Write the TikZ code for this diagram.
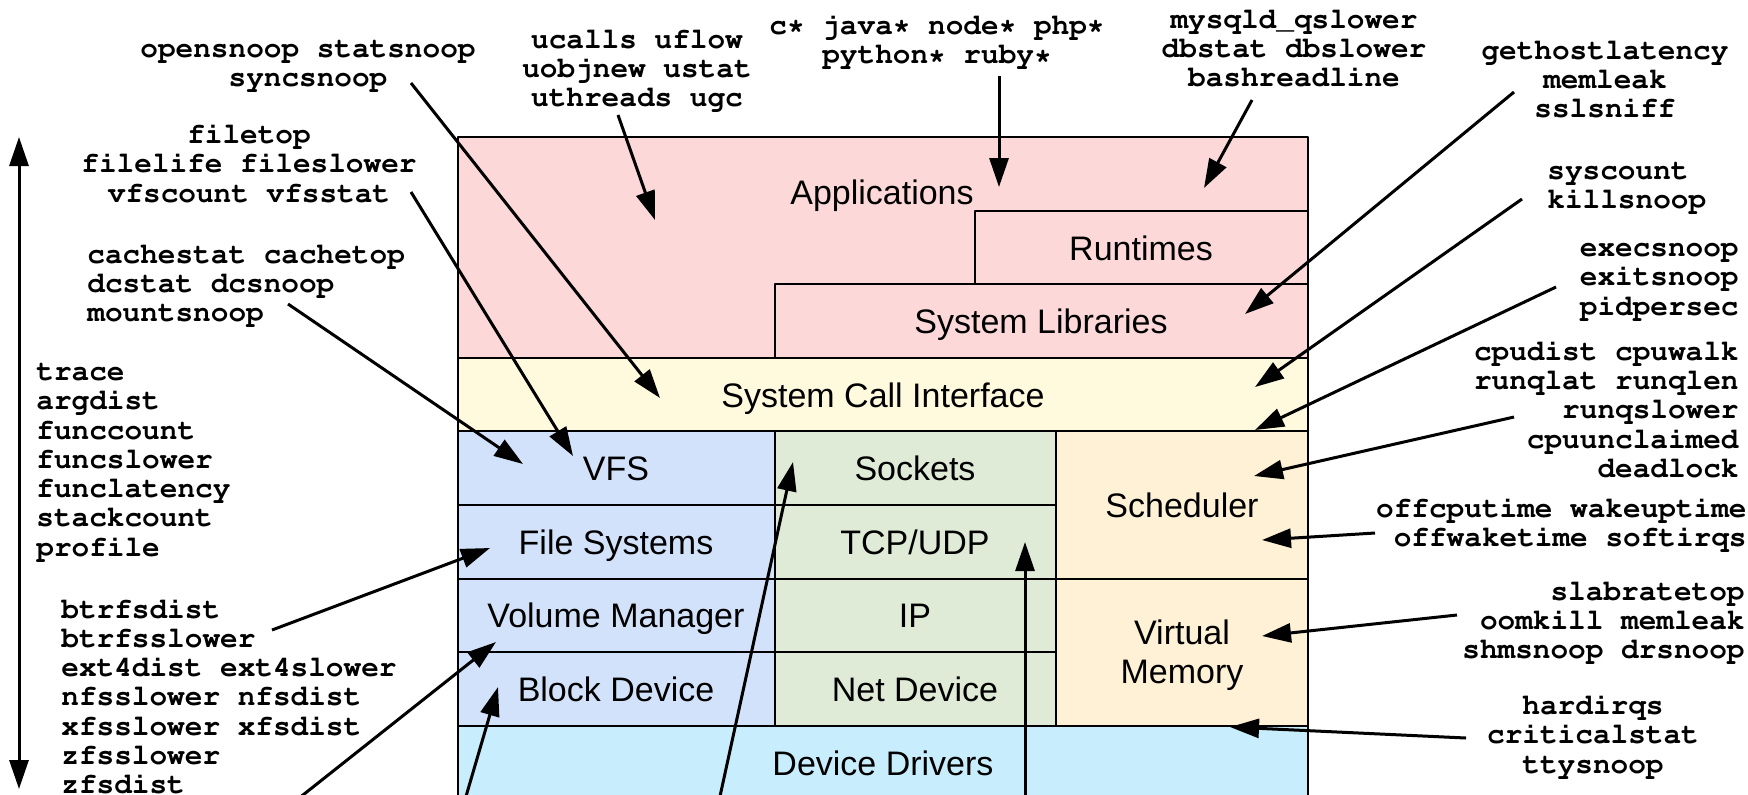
\documentclass[tikz,border=0pt]{standalone}
\usepackage[T1]{fontenc}
\usepackage{fontspec}
\setsansfont{Liberation Sans}
\usepackage{tikz}
\usetikzlibrary{arrows.meta}

\definecolor{appbg}{RGB}{252,216,216}
\definecolor{scibg}{RGB}{255,249,222}
\definecolor{fsbg}{RGB}{211,226,251}
\definecolor{netbg}{RGB}{223,235,214}
\definecolor{cpubg}{RGB}{255,241,214}
\definecolor{drvbg}{RGB}{200,238,253}

% bold courier for the tool names, sans for the layers
\newcommand{\toolfont}{\fontencoding{T1}\fontfamily{pcr}\fontseries{b}\fontshape{n}\fontsize{14.7}{14.65}\selectfont}
\newcommand{\layerfont}{\sffamily\fontsize{17}{19.5}\selectfont}

\begin{document}
\begin{tikzpicture}[x=0.5pt,y=-0.5pt,line join=round,
    >={Triangle[length=14.5pt,width=9.5pt]},
    box/.style={draw=black,line width=1pt},
    layer/.style={font=\layerfont,inner sep=0pt,text height=12.2pt,text depth=0pt},
    layers/.style={font=\layerfont,inner sep=0pt,align=center},
    tools/.style={font=\toolfont,inner sep=0pt,execute at begin node=\strut,execute at end node=\strut},
    probe/.style={->,line width=1.5pt}]
        \useasboundingbox (0,0) rectangle (1748,794);
        \clip (0,0) rectangle (1748,794);

        % user space
        \draw [box,fill=appbg] (458,137) rectangle (1308,358);
        \draw [box,fill=appbg] (975,211) rectangle (1308,284);
        \draw [box,fill=appbg] (775,284) rectangle (1308,358);
        \draw [box,fill=scibg] (458,358) rectangle (1308,431);
        % storage stack
        \draw [box,fill=fsbg] (458,431) rectangle (775,505);
        \draw [box,fill=fsbg] (458,505) rectangle (775,579);
        \draw [box,fill=fsbg] (458,579) rectangle (775,652);
        \draw [box,fill=fsbg] (458,652) rectangle (775,726);
        % network stack
        \draw [box,fill=netbg] (775,431) rectangle (1056,505);
        \draw [box,fill=netbg] (775,505) rectangle (1056,579);
        \draw [box,fill=netbg] (775,579) rectangle (1056,652);
        \draw [box,fill=netbg] (775,652) rectangle (1056,726);
        % cpu and memory
        \draw [box,fill=cpubg] (1056,431) rectangle (1308,579);
        \draw [box,fill=cpubg] (1056,579) rectangle (1308,726);
        \draw [box,fill=drvbg] (458,726) rectangle (1308,810);

        \node [layer] (apps) at (882,192) {Applications};
        \node [layer] (runtimes) at (1141,248) {Runtimes};
        \node [layer] (syslibs) at (1041,321) {System Libraries};
        \node [layer] (sci) at (883,395) {System Call Interface};
        \node [layer] (vfs) at (616,468) {VFS};
        \node [layer] (fsys) at (616,542) {File Systems};
        \node [layer] (volmgr) at (616,615) {Volume Manager};
        \node [layer] (blkdev) at (616,689) {Block Device};
        \node [layer] (sockets) at (915,468) {Sockets};
        \node [layer] (tcpudp) at (915,542) {TCP/UDP};
        \node [layer] (ip) at (915,615) {IP};
        \node [layer] (netdev) at (915,689) {Net Device};
        \node [layer] (sched) at (1182,505) {Scheduler};
        \node [layers] (vm) at (1182,655) {Virtual\\Memory};
        \node [layer] (drivers) at (883,763) {Device Drivers};

        % tool groups
        \node [tools,align=center] (t-open) at (308,68.5) {opensnoop statsnoop\\syncsnoop};
        \node [tools,align=center] (t-ucalls) at (637,72.5) {ucalls uflow\\uobjnew ustat\\uthreads ugc};
        \node [tools,align=center] (t-lang) at (937,43.5) {c* java* node* php*\\python* ruby*};
        \node [tools,align=center] (t-db) at (1294,52.5) {mysqld\_qslower\\dbstat dbslower\\bashreadline};
        \node [tools,align=center] (t-libs) at (1605,83.5) {gethostlatency\\memleak\\sslsniff};
        \node [tools,align=left,anchor=west] (t-sys) at (1547,190.5) {syscount\\killsnoop};
        \node [tools,align=right,anchor=east] (t-proc) at (1739,283.5) {execsnoop\\exitsnoop\\pidpersec};
        \node [tools,align=right,anchor=east] (t-sched) at (1739,413.5) {cpudist cpuwalk\\runqlat runqlen\\runqslower\\cpuunclaimed\\deadlock};
        \node [tools,align=right,anchor=east] (t-off) at (1747,526.5) {offcputime wakeuptime\\offwaketime softirqs};
        \node [tools,align=right,anchor=east] (t-mem) at (1745,624.5) {slabratetop\\oomkill memleak\\shmsnoop drsnoop};
        \node [tools,align=center] (t-irq) at (1593,738.5) {hardirqs\\criticalstat\\ttysnoop};
        \node [tools,align=center] (t-file) at (249,167.5) {filetop\\filelife fileslower\\vfscount vfsstat};
        \node [tools,align=left,anchor=west] (t-cache) at (87,287.5) {cachestat cachetop\\dcstat dcsnoop\\mountsnoop};
        \node [tools,align=left,anchor=west] (t-trace) at (36,464.5) {trace\\argdist\\funccount\\funcslower\\funclatency\\stackcount\\profile};
        \node [tools,align=left,anchor=west] (t-fs) at (61,700.5) {btrfsdist\\btrfsslower\\ext4dist ext4slower\\nfsslower nfsdist\\xfsslower xfsdist\\zfsslower\\zfsdist};

        % arrow ends
        \coordinate (s-open) at (411,83);      \coordinate (e-open) at (660,398);
        \coordinate (s-ucalls) at (618,115);   \coordinate (e-ucalls) at (655,220);
        \coordinate (s-lang) at (999,76);      \coordinate (e-lang) at (999,187);
        \coordinate (s-db) at (1252,100);      \coordinate (e-db) at (1204,188);
        \coordinate (s-libs) at (1514,92);     \coordinate (e-libs) at (1245,314);
        \coordinate (s-sys) at (1522,199);     \coordinate (e-sys) at (1255,387);
        \coordinate (s-proc) at (1556,287);    \coordinate (e-proc) at (1255,430);
        \coordinate (s-sched) at (1514,417);   \coordinate (e-sched) at (1254,476);
        \coordinate (s-off) at (1375,533);     \coordinate (e-off) at (1262,540);
        \coordinate (s-mem) at (1457,615);     \coordinate (e-mem) at (1262,636);
        \coordinate (s-irq) at (1466,738);     \coordinate (e-irq) at (1230,727);
        \coordinate (s-file) at (411,192);     \coordinate (e-file) at (573,456);
        \coordinate (s-cache) at (288,304);    \coordinate (e-cache) at (523,464);
        \coordinate (s-fs) at (272,630);       \coordinate (e-fs) at (490,548);
        \coordinate (s-vol) at (284,810);      \coordinate (e-vol) at (496,642);
        \coordinate (s-blk) at (462,810);      \coordinate (e-blk) at (498,687);
        \coordinate (s-sock) at (717,810);     \coordinate (e-sock) at (793,462);
        \coordinate (s-tcp) at (1025,810);     \coordinate (e-tcp) at (1025,542);
        \coordinate (stack-top) at (19,137);   \coordinate (stack-bot) at (19,789);

        \foreach \t in {open,ucalls,lang,db,libs,sys,proc,sched,off,mem,irq,file,cache,fs,vol,blk,sock,tcp}
            \draw [probe] (s-\t) -- (e-\t);
        \draw [probe,<->] (stack-top) -- (stack-bot);
\end{tikzpicture}
\end{document}
